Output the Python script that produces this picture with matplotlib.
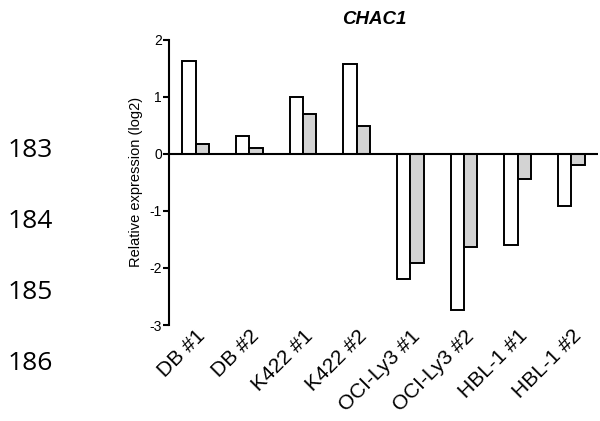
import numpy as np
import matplotlib
matplotlib.use('Agg')
import matplotlib.pyplot as plt

plt.rcParams['font.family'] = 'Liberation Sans'
plt.rcParams['axes.unicode_minus'] = False

# data
cell_lines = ['DB #1', 'DB #2', 'K422 #1', 'K422 #2',
              'OCI-Ly3 #1', 'OCI-Ly3 #2', 'HBL-1 #1', 'HBL-1 #2']
white_vals = [1.62, 0.31, 1.00, 1.57, -2.19, -2.74, -1.59, -0.92]
grey_vals = [0.17, 0.105, 0.70, 0.49, -1.92, -1.64, -0.44, -0.19]
y_ticks = [-3, -2, -1, 0, 1, 2]
line_numbers = ['183', '184', '185', '186']

fig = plt.figure(figsize=(6.0, 4.21), dpi=100)
ax = fig.add_axes([0.2817, 0.228, 0.715, 0.678])

x = np.arange(len(cell_lines))
w = 0.25
ax.bar(x - w / 2, white_vals, w, color='white', edgecolor='black', linewidth=1.4, zorder=2)
ax.bar(x + w / 2, grey_vals, w, color='#d3d3d3', edgecolor='black', linewidth=1.4, zorder=2)
ax.axhline(0, color='black', linewidth=1.5, zorder=3)

ax.set_xlim(-0.5, 7.5)
ax.set_ylim(-3, 2)
ax.set_yticks(y_ticks)
ax.set_xticks(x)
ax.set_xticklabels(cell_lines, rotation=45, ha='right', rotation_mode='anchor', fontsize=15)
ax.tick_params(axis='x', length=0, pad=1)
ax.tick_params(axis='y', length=4, width=1.5, labelsize=10, pad=1)

for s in ['top', 'right', 'bottom']:
    ax.spines[s].set_visible(False)
ax.spines['left'].set_linewidth(1.5)

ax.set_ylabel('Relative expression (log2)', fontsize=10.5, labelpad=5)
ax.set_title('CHAC1', fontsize=13.5, fontweight='bold', fontstyle='italic', x=0.478, pad=11)

# manuscript line numbers
for i, t in enumerate(line_numbers):
    fig.text(8 / 600, 1 - (150 + 71.3 * i) / 421, t, fontsize=19,
             family='Open Sans', ha='left', va='center')

fig.savefig('out.png', dpi=100)
